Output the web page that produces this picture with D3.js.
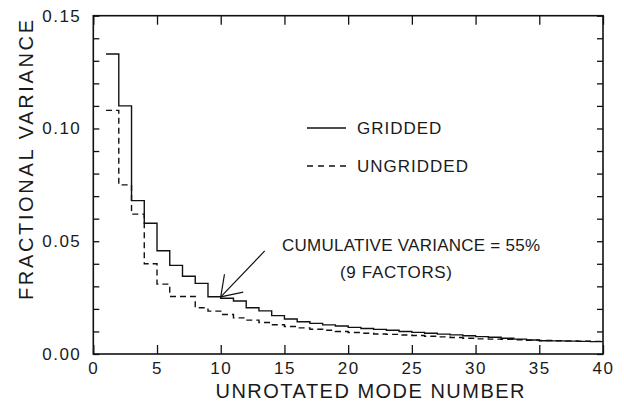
<!DOCTYPE html>
<html>
<head>
<meta charset="utf-8">
<script src="https://cdn.jsdelivr.net/npm/d3@7"></script>
<style>
  html, body { margin: 0; padding: 0; background: #fff; }
  svg { display: block; }
  text { font-family: "Liberation Sans", Arial, sans-serif; fill: #1a1a1a; }
</style>
</head>
<body>
<svg id="chart" width="624" height="402"></svg>
<script>
// ---- data ----
const modes = [1,2,3,4,5,6,7,8,9,10,11,12,13,14,15,16,17,18,19,20,21,22,23,24,25,26,27,28,29,30,31,32,33,34,35,36,37,38,39];
const gridded = [0.133,0.110,0.068,0.058,0.0458,0.0393,0.0345,0.0313,0.0254,0.0247,
                 0.0235,0.0205,0.0191,0.0170,0.0155,0.0143,0.0136,0.0129,0.0124,0.0118,
                 0.0113,0.0109,0.0105,0.0100,0.0096,0.0092,0.0088,0.0085,0.0081,0.0077,
                 0.0074,0.0070,0.0066,0.0062,0.0059,0.0058,0.0057,0.0056,0.0055];
const ungridded = [0.108,0.075,0.062,0.040,0.031,0.0255,0.0255,0.0205,0.019,0.0175,
                   0.0160,0.0150,0.0140,0.0130,0.0122,0.0116,0.0110,0.0105,0.0100,0.0095,
                   0.0092,0.0089,0.0087,0.0084,0.0082,0.0079,0.0076,0.0073,0.0070,0.0067,
                   0.0066,0.0065,0.0063,0.0061,0.0060,0.0059,0.0058,0.0057,0.0056];
const xTicks = [0,5,10,15,20,25,30,35,40];
const yTicks = [0,0.01,0.02,0.03,0.04,0.05,0.06,0.07,0.08,0.09,0.10,0.11,0.12,0.13,0.14,0.15];
const yLabelTicks = [0, 0.05, 0.10, 0.15];
const xTitle = "UNROTATED MODE NUMBER";
const yTitle = "FRACTIONAL VARIANCE";
const legendLabels = ["GRIDDED", "UNGRIDDED"];
const noteLines = ["CUMULATIVE VARIANCE = 55%", "(9 FACTORS)"];
const notePoint = [10, 0.0253];

// ---- layout ----
const L = 93.3, R = 603, T = 15.7, B = 354;
const svg = d3.select("#chart");
const x = d3.scaleLinear().domain([0, 40]).range([L, R]);
const y = d3.scaleLinear().domain([0, 0.15]).range([B, T]);

svg.append("defs").append("clipPath").attr("id", "clip")
  .append("rect").attr("x", L).attr("y", T).attr("width", R - L).attr("height", B - T);

// axes
const fmt = d => yLabelTicks.some(v => Math.abs(v - d) < 1e-9) ? d3.format(".2f")(d) : "";
const gB = svg.append("g").attr("transform", `translate(0,${B})`)
  .call(d3.axisBottom(x).tickValues(xTicks).tickSizeInner(-9).tickSizeOuter(0).tickPadding(8).tickFormat(d3.format("d")));
const gT = svg.append("g").attr("transform", `translate(0,${T})`)
  .call(d3.axisTop(x).tickValues(xTicks).tickSizeInner(-9).tickSizeOuter(0).tickFormat(""));
const gL = svg.append("g").attr("transform", `translate(${L},0)`)
  .call(d3.axisLeft(y).tickValues(yTicks).tickSizeInner(-6).tickSizeOuter(0).tickPadding(12).tickFormat(fmt));
const gR = svg.append("g").attr("transform", `translate(${R},0)`)
  .call(d3.axisRight(y).tickValues(yTicks).tickSizeInner(-6).tickSizeOuter(0).tickFormat(""));
[gB, gT, gL, gR].forEach(g => {
  g.select(".domain").remove();
  g.selectAll(".tick line").attr("stroke", "#111").attr("stroke-width", 1.3);
  g.selectAll(".tick text").attr("font-size", 17).attr("fill", "#1a1a1a")
    .style("letter-spacing", "1.5px");
});
svg.append("rect").attr("x", L).attr("y", T).attr("width", R - L).attr("height", B - T)
  .attr("fill", "none").attr("stroke", "#111").attr("stroke-width", 1.6);

// lines
const line = d3.line().curve(d3.curveStepAfter).x(d => x(d[0])).y(d => y(d[1]));
const series = [
  {vals: gridded, dash: null},
  {vals: ungridded, dash: "6,4"}
];
series.forEach(s => {
  const pts = modes.map((m, i) => [m, s.vals[i]]);
  pts.push([modes[modes.length - 1] + 1, s.vals[s.vals.length - 1]]);
  svg.append("path").attr("d", line(pts)).attr("fill", "none")
    .attr("stroke", "#111").attr("stroke-width", 1.4)
    .attr("stroke-dasharray", s.dash).attr("clip-path", "url(#clip)");
});

// legend
const legY = [128, 166];
legendLabels.forEach((lab, i) => {
  svg.append("line").attr("x1", 307).attr("x2", 346).attr("y1", legY[i]).attr("y2", legY[i])
    .attr("stroke", "#111").attr("stroke-width", 1.4)
    .attr("stroke-dasharray", i === 1 ? "6,5" : null);
  svg.append("text").attr("x", 357).attr("y", legY[i] + 6).attr("font-size", 17)
    .style("letter-spacing", "1px").text(lab);
});

// annotation
svg.append("text").attr("x", 411).attr("y", 251).attr("text-anchor", "middle")
  .attr("font-size", 17).attr("textLength", 258).attr("lengthAdjust", "spacing").text(noteLines[0]);
svg.append("text").attr("x", 396).attr("y", 278).attr("text-anchor", "middle")
  .attr("font-size", 17).attr("textLength", 112).attr("lengthAdjust", "spacing").text(noteLines[1]);

// arrow
const tx = x(notePoint[0]), ty = y(notePoint[1]);
const ang = Math.atan2(-46, 44);
const arrow = svg.append("g").attr("stroke", "#111").attr("stroke-width", 1.2).attr("fill", "none");
arrow.append("line").attr("x1", tx).attr("y1", ty).attr("x2", tx + 44).attr("y2", ty - 46);
[-0.6, 0.6].forEach(da => {
  arrow.append("line").attr("x1", tx).attr("y1", ty)
    .attr("x2", tx + 23 * Math.cos(ang + da)).attr("y2", ty + 23 * Math.sin(ang + da));
});

// axis titles
svg.append("text").attr("x", 370).attr("y", 398).attr("text-anchor", "middle")
  .attr("font-size", 20).attr("textLength", 309).attr("lengthAdjust", "spacing").text(xTitle);
svg.append("text").attr("transform", "translate(33,160) rotate(-90)").attr("text-anchor", "middle")
  .attr("font-size", 20).attr("textLength", 280).attr("lengthAdjust", "spacing").text(yTitle);
</script>
</body>
</html>
